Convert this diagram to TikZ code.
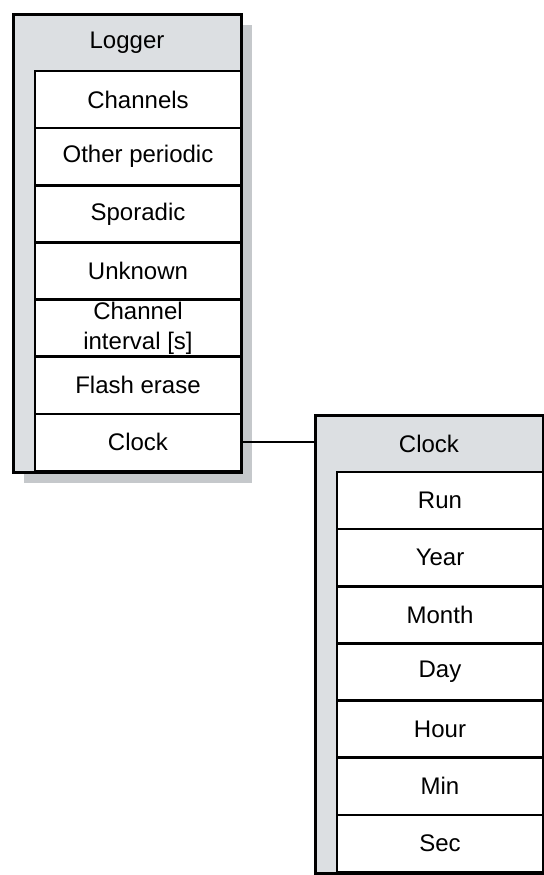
\documentclass[tikz,border=0pt]{standalone}
\usepackage{fontspec}
\setmainfont{Liberation Sans}
\usetikzlibrary{positioning,shadows}
\definecolor{panelgrey}{RGB}{220,223,226}
\definecolor{shadowgrey}{RGB}{197,200,203}

\begin{document}
\begin{tikzpicture}[x=0.5pt,y=-0.5pt,
  panel/.style={draw, line width=1.5pt, fill=panelgrey, minimum width=114pt,
    minimum height=229pt, anchor=north west, inner sep=0pt, outer sep=0pt,
    drop shadow={shadow xshift=5.5pt, shadow yshift=-5.5pt, fill=shadowgrey, opacity=1}},
  title/.style={minimum width=114pt, minimum height=28.5pt, inner sep=0pt,
    outer sep=0pt, anchor=north, font=\fontsize{12}{14.5}\selectfont},
  cell/.style={draw, line width=1.3pt, fill=white, minimum width=103pt,
    minimum height=28.57pt, inner sep=0pt, outer sep=0pt, align=center,
    font=\fontsize{12}{15}\selectfont}]
\useasboundingbox (0,0) rectangle (544,875);
% logger panel
\node[panel] (logger) at (13,14) {};
\node[title] (ltitle) at (logger.north) {Logger};
\node[cell, anchor=north east] (chan) at (ltitle.south east) {Channels};
\node[cell, below=0pt of chan] (other) {Other periodic};
\node[cell, below=0pt of other] (spor) {Sporadic};
\node[cell, below=0pt of spor] (unkn) {Unknown};
\node[cell, below=0pt of unkn] (intv) {Channel\\interval [s]};
\node[cell, below=0pt of intv] (flash) {Flash erase};
\node[cell, below=0pt of flash] (lclock) {Clock};
% clock panel
\node[panel] (clock) at (315,415) {};
\node[title] (ctitle) at (clock.north) {Clock};
\node[cell, anchor=north east] (run) at (ctitle.south east) {Run};
\node[cell, below=0pt of run] (year) {Year};
\node[cell, below=0pt of year] (month) {Month};
\node[cell, below=0pt of month] (day) {Day};
\node[cell, below=0pt of day] (hour) {Hour};
\node[cell, below=0pt of hour] (min) {Min};
\node[cell, below=0pt of min] (sec) {Sec};
\draw[line width=1pt] (lclock.east) -- (lclock.east -| clock.west);
\end{tikzpicture}
\end{document}
